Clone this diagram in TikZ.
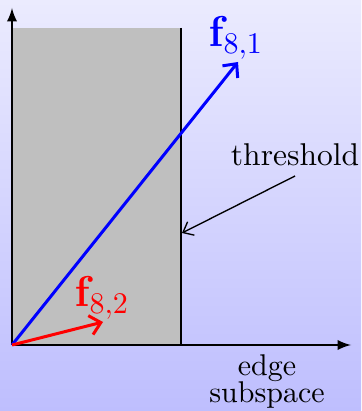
\documentclass[tikz,border=0pt]{standalone}
\usepackage{amsmath}
\usepackage{tikz}
\usetikzlibrary{arrows.meta}
\definecolor{bgtop}{RGB}{235,235,254}
\definecolor{bgbot}{RGB}{190,190,254}

\begin{document}
\begin{tikzpicture}[
					x=0.3333pt,y=-0.3333pt,
					axis/.style={draw=black,line width=0.55pt,-latex},
					vec/.style={line width=1pt,-{Straight Barb[length=3.5pt,width=6.5pt]}},
					lbl/.style={inner sep=1pt,font=\Large}
					]
					\shade[top color=bgtop,bottom color=bgbot] (0,0) rectangle (361,411);
					\useasboundingbox (0,0) rectangle (361,411);
					\coordinate (o) at (12,345);
					\coordinate (ytop) at (12,8);
					\coordinate (xend) at (351,345);
					\coordinate (thtop) at (181,28);
					\coordinate (thbot) at (181,345);
					\coordinate (thhit) at (182,233);
					\fill[lightgray] (12,28) rectangle (thbot);
					\draw[line width=0.55pt] (thtop) -- (thbot);
					\draw[axis] (o) -- (ytop);
					\draw[axis] (o) -- (xend);
					\node[lbl,text=blue] (f1) at (236,38) {$\mathbf{f}_{8,1}$};
					\node[lbl,text=red] (f2) at (102,298) {$\mathbf{f}_{8,2}$};
					\coordinate (f1tip) at (238,62);
					\coordinate (f2tip) at (103,322);
					\draw[vec,blue] (o) -- (f1tip);
					\draw[vec,red] (o) -- (f2tip);
					\node[font=\fontsize{10.5}{12}\selectfont] (thr) at (295,155) {threshold};
					\coordinate (thrfoot) at (295,176);
					\draw[-{Straight Barb[length=3pt,width=5pt]},line width=0.45pt] (thrfoot) -- (thhit);
					\node[align=center,inner sep=0pt] (edge) at (267,381) {edge\\[-3pt]subspace};
				\end{tikzpicture}
\end{document}
